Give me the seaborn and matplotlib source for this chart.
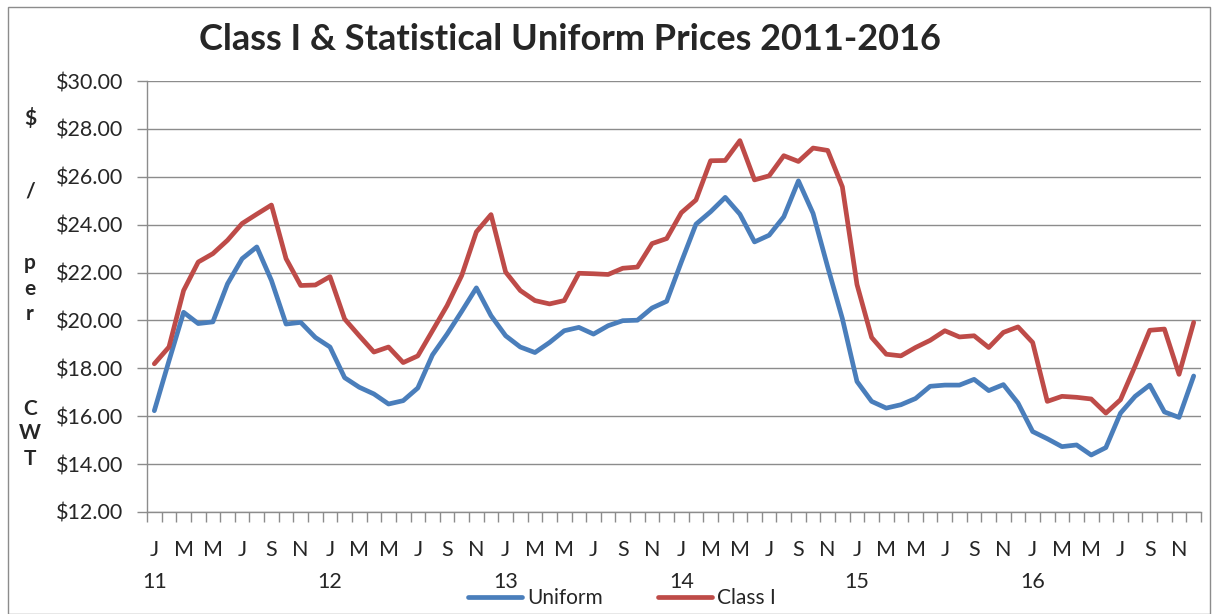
import matplotlib
matplotlib.use("Agg")
import matplotlib.pyplot as plt
import matplotlib.ticker as ticker
from matplotlib.patches import Rectangle
import seaborn as sns
import pandas as pd

# monthly prices, Jan 2011 .. Dec 2016 ($ per cwt)
uniform = [16.23, 18.31, 20.34, 19.87, 19.94, 21.53, 22.58, 23.07, 21.67, 19.85, 19.92, 19.29,
           18.89, 17.61, 17.21, 16.93, 16.51, 16.65, 17.18, 18.56, 19.43, 20.38, 21.36, 20.20,
           19.36, 18.89, 18.66, 19.08, 19.57, 19.71, 19.43, 19.78, 19.99, 20.01, 20.52, 20.80,
           22.44, 24.02, 24.54, 25.14, 24.44, 23.28, 23.56, 24.33, 25.83, 24.47, 22.23, 20.08,
           17.45, 16.62, 16.34, 16.48, 16.74, 17.25, 17.30, 17.30, 17.54, 17.07, 17.32, 16.55,
           15.36, 15.06, 14.73, 14.80, 14.38, 14.69, 16.13, 16.83, 17.30, 16.18, 15.95, 17.68]
class_1 = [18.19, 18.89, 21.25, 22.44, 22.79, 23.35, 24.05, 24.44, 24.82, 22.58, 21.46, 21.48,
           21.83, 20.06, 19.36, 18.68, 18.89, 18.24, 18.52, 19.57, 20.62, 21.88, 23.70, 24.42,
           22.02, 21.25, 20.83, 20.69, 20.83, 21.97, 21.95, 21.92, 22.18, 22.23, 23.21, 23.42,
           24.50, 25.03, 26.67, 26.68, 27.51, 25.87, 26.04, 26.88, 26.64, 27.20, 27.10, 25.58,
           21.50, 19.29, 18.59, 18.52, 18.87, 19.17, 19.57, 19.31, 19.36, 18.87, 19.50, 19.73,
           19.08, 16.62, 16.83, 16.79, 16.72, 16.13, 16.69, 18.10, 19.59, 19.64, 17.75, 19.92]
month_letters = ["J", "M", "M", "J", "S", "N"]
years = ["11", "12", "13", "14", "15", "16"]

n = len(uniform)
df = pd.DataFrame({
    "month": list(range(n)) * 2,
    "price": uniform + class_1,
    "series": ["Uniform"] * n + ["Class I"] * n,
})

sns.set_style("white")
plt.rcParams["font.family"] = ["Lato", "DejaVu Sans"]

fig = plt.figure(figsize=(12.13, 6.14), dpi=100)
ax = fig.add_axes([147 / 1213, 1 - 512 / 614, (1201 - 147) / 1213, (512 - 81) / 614])

grid_c = "#8c8c8c"
sns.lineplot(data=df, x="month", y="price", hue="series",
             palette={"Uniform": "#4A7EBB", "Class I": "#BE4B48"},
             linewidth=3.4, ax=ax, legend=True)

ax.set_xlim(-0.5, n - 0.5)
ax.set_ylim(12, 30)
ax.yaxis.set_major_locator(ticker.MultipleLocator(2))
ax.yaxis.set_major_formatter(ticker.FuncFormatter(lambda v, p: r"\$%.2f" % v))
ax.grid(axis="y", color=grid_c, linewidth=1.0)
ax.set_axisbelow(True)

# month labels every other month, year under each January
ticks = list(range(0, n, 2))
labels = []
for t in ticks:
    lab = month_letters[(t % 12) // 2]
    if t % 12 == 0:
        lab += "\n" + years[t // 12]
    labels.append(lab)
ax.set_xticks(ticks)
ax.set_xticklabels(labels, linespacing=1.75, va="top")
ax.set_xticks([i - 0.5 for i in range(n + 1)], minor=True)
ax.tick_params(axis="x", which="major", length=0, pad=20, labelsize=15.5)
ax.tick_params(axis="x", which="minor", length=7, color=grid_c, width=1, direction="out")
ax.tick_params(axis="y", length=7, color=grid_c, width=1, direction="out", labelsize=15.5, pad=10)
ax.tick_params(bottom=True, left=True, which="both")
for s in ["top", "right"]:
    ax.spines[s].set_visible(False)
for s in ["left", "bottom"]:
    ax.spines[s].set_color(grid_c)
    ax.spines[s].set_linewidth(1)
ax.set_xlabel("")
ax.set_ylabel("")

# stacked vertical axis title
for ch, y in [(r"\$", 118), ("/", 192), ("p", 263), ("e", 289), ("r", 314),
              ("C", 409), ("W", 433), ("T", 459)]:
    fig.text(30 / 1213, 1 - y / 614, ch, ha="center", va="center",
             fontsize=15, fontweight="bold")

fig.text(570 / 1213, 1 - 40 / 614, "Class I & Statistical Uniform Prices 2011-2016",
         ha="center", va="center", fontsize=26, fontweight="bold")

handles, labs = ax.get_legend_handles_labels()
ax.get_legend().remove()
fig.legend(handles, labs, loc="center", bbox_to_anchor=(622 / 1213, 1 - 598 / 614),
           ncol=2, frameon=False, fontsize=15, handlelength=2.6, columnspacing=2.6,
           handletextpad=0.25, borderpad=0)

fig.patches.append(Rectangle((8 / 1213, 0), 1202 / 1213, 1 - 7 / 614, transform=fig.transFigure,
                             fill=False, edgecolor="#8c8c8c", linewidth=1))

fig.savefig("out.png", dpi=100)
